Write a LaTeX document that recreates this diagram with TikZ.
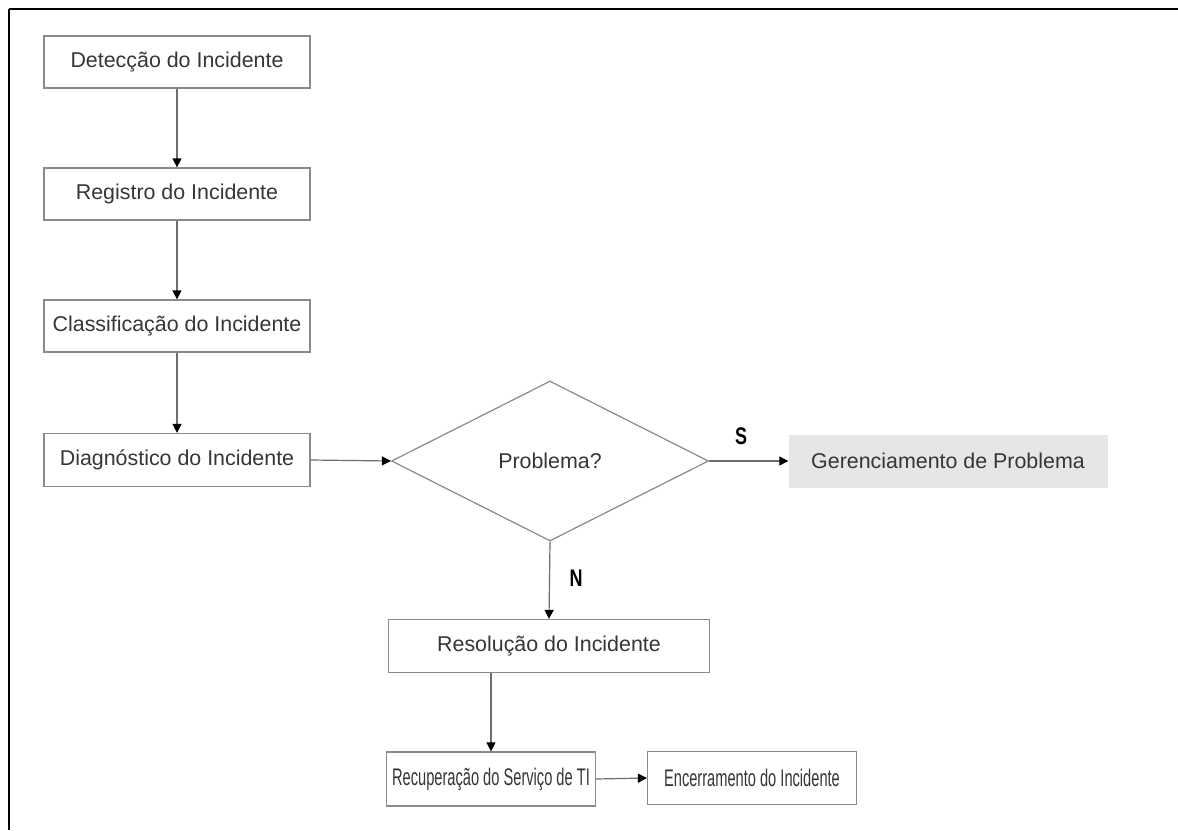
\documentclass[tikz,border=0pt]{standalone}
\usepackage{fontspec}
\usepackage{graphicx}
\setmainfont{Liberation Sans}
\newcommand{\narrowtxt}[1]{\scalebox{0.61}[1]{#1}}
\newcommand{\lbltxt}[1]{\scalebox{0.75}[1]{#1}}
\usetikzlibrary{shapes.geometric,arrows.meta}
\definecolor{boxline}{HTML}{8A8A8A}
\definecolor{conn}{HTML}{6E6E6E}
\definecolor{txt}{HTML}{363636}
\definecolor{greyfill}{HTML}{E6E6E6}
\begin{document}
\begin{tikzpicture}[x=1pt,y=-1pt,
  box/.style={draw=boxline, line width=1.2pt, fill=white, rectangle, inner sep=0pt,
    text=txt, font=\fontsize{21.4}{25}\selectfont},
  narrowbox/.style={box, font=\fontsize{24}{28}\selectfont},
  greybox/.style={fill=greyfill, rectangle, inner sep=0pt, text=txt,
    font=\fontsize{21.4}{25}\selectfont},
  decision/.style={draw=boxline, line width=1.2pt, diamond, inner sep=0pt, aspect=2,
    text=txt, font=\fontsize{21.4}{25}\selectfont},
  conn/.style={draw=conn, line width=1.2pt, -{Triangle[length=9pt,width=9pt,fill=black,color=black]}},
  lbl/.style={text=black, font=\fontsize{24}{28}\selectfont\bfseries},
  frame/.style={draw=black, line width=2.5pt}]
\useasboundingbox (0,0) rectangle (1178,830);
\fill[white] (0,0) rectangle (1178,830);
\draw[frame] (9,9) -- (1178,9);
\draw[frame] (9,9) -- (9,830);

\node[box, minimum width=266pt, minimum height=52pt] (det) at (177,62) {Detecção do Incidente};
\node[box, minimum width=266pt, minimum height=52pt] (reg) at (177,194) {Registro do Incidente};
\node[box, minimum width=266pt, minimum height=52pt] (cla) at (177,326) {Classificação do Incidente};
\node[box, minimum width=266pt, minimum height=53pt] (diag) at (177,460) {Diagnóstico do Incidente};
\node[decision, minimum width=317pt, minimum height=160pt] (prob) at (550,461) {Problema?};
\node[greybox, minimum width=319pt, minimum height=53pt] (ger) at (948,461) {Gerenciamento de Problema};
\node[box, minimum width=321pt, minimum height=53pt] (res) at (549,646) {Resolução do Incidente};
\node[narrowbox, minimum width=209pt, minimum height=54pt] (rec) at (491,779) {\narrowtxt{Recuperação do Serviço de TI}};
\node[narrowbox, minimum width=209pt, minimum height=53pt] (enc) at (752,778) {\narrowtxt{Encerramento do Incidente}};

\draw[conn] (det) -- (reg);
\draw[conn] (reg) -- (cla);
\draw[conn] (cla) -- (diag);
\draw[conn] (diag.east) -- (prob.west);
\draw[conn] (prob.east) -- (ger.west);
\draw[conn] (prob.south) -- (res.north);
\draw[conn] (rec.north |- res.south) -- (rec.north);
\draw[conn] (rec.east) -- (enc.west);

\node[lbl] (s) at (741,436) {\lbltxt{S}};
\node[lbl] (n) at (576,578) {\lbltxt{N}};
\end{tikzpicture}
\end{document}
